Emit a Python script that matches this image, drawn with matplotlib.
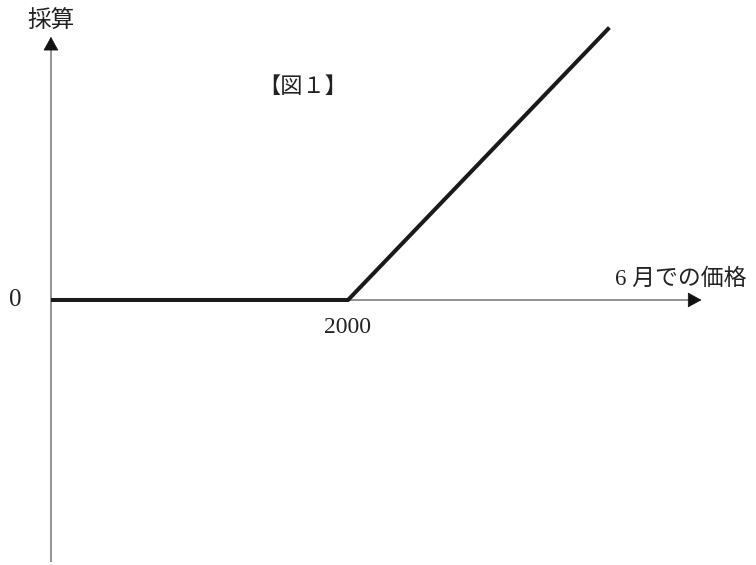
import numpy as np
import matplotlib.pyplot as plt

# payoff of a call-type position
strike = 2000
prices = [0, 2000, 3760]
payoff = [0, 0, 1760]

# axis extents (data units)
x_axis_max = 4380
y_axis_max = 1700
y_axis_min = -1690

title = "【図１】"
ylabel = "採算"
xlabel = "6 月での価格"

jp_font = ['Liberation Serif', 'Noto Sans CJK JP', 'DejaVu Sans']
plt.rcParams['font.family'] = jp_font

fig = plt.figure(figsize=(7.56, 5.65), dpi=100)
ax = fig.add_axes([0, 0, 1, 1])
ax.set_xlim(-343, 4747)
ax.set_ylim(-1712, 1938)
ax.axis('off')

axis_color = '#808080'
head_len_x = 80
head_len_y = 75

# x axis
ax.plot([0, x_axis_max - head_len_x], [0, 0], color=axis_color, lw=1.2,
        solid_capstyle='butt', zorder=1)
ax.annotate('', xy=(x_axis_max, 0), xytext=(x_axis_max - head_len_x, 0),
            arrowprops=dict(arrowstyle='-|>,head_length=0.6,head_width=0.33',
                            color='#111111', lw=0.5, mutation_scale=15,
                            shrinkA=0, shrinkB=0))

# y axis
ax.plot([0, 0], [y_axis_min, y_axis_max - head_len_y], color=axis_color, lw=1.2,
        solid_capstyle='butt', zorder=1)
ax.annotate('', xy=(0, y_axis_max), xytext=(0, y_axis_max - head_len_y),
            arrowprops=dict(arrowstyle='-|>,head_length=0.6,head_width=0.33',
                            color='#111111', lw=0.5, mutation_scale=15,
                            shrinkA=0, shrinkB=0))

# payoff line
ax.plot(prices, payoff, color='#1a1a1a', lw=2.9, solid_capstyle='butt',
        solid_joinstyle='miter', zorder=3)

txt = '#222222'
ax.text(0, 1796, ylabel, ha='center', va='center', fontsize=17, color=txt)
ax.text(1697, 1370, title, ha='center', va='center', fontsize=16, color=txt)
ax.text(-242, 0, "0", ha='center', va='center', fontsize=18, color=txt)
ax.text(strike, -178, str(strike), ha='center', va='center', fontsize=17, color=txt)
ax.text(4242, 136, xlabel, ha='center', va='center', fontsize=16.5, color=txt)

fig.savefig('out.png', dpi=100)
